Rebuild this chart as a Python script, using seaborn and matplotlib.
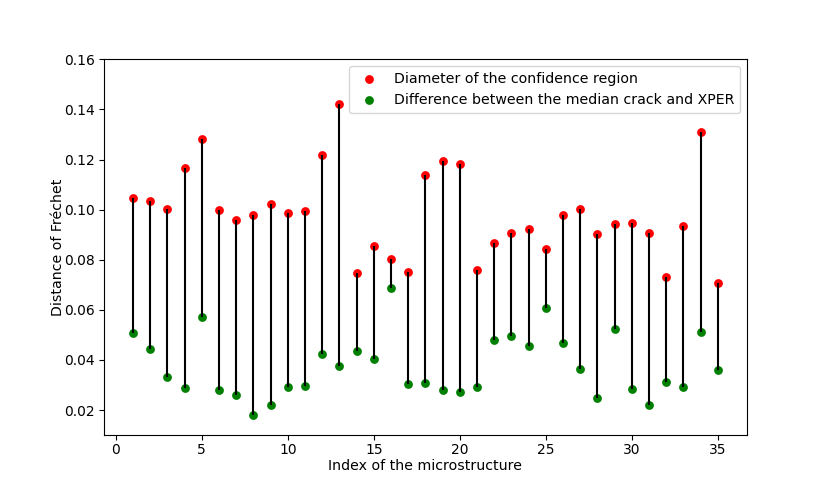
import numpy as np
import pandas as pd
import matplotlib
matplotlib.use("Agg")
import matplotlib.pyplot as plt
import seaborn as sns

index = list(range(1, 36))
diameter = [0.1045, 0.1035, 0.1001, 0.1165, 0.1281, 0.0997, 0.0957, 0.0977, 0.1021, 0.0987,
            0.0993, 0.1217, 0.1420, 0.0747, 0.0853, 0.0801, 0.0753, 0.1140, 0.1195, 0.1184,
            0.0761, 0.0868, 0.0905, 0.0923, 0.0841, 0.0977, 0.1001, 0.0903, 0.0941, 0.0947,
            0.0907, 0.0731, 0.0936, 0.1311, 0.0708]
difference = [0.0508, 0.0443, 0.0331, 0.0287, 0.0573, 0.0279, 0.0259, 0.0180, 0.0220, 0.0292,
              0.0295, 0.0425, 0.0377, 0.0436, 0.0403, 0.0689, 0.0305, 0.0309, 0.0279, 0.0272,
              0.0293, 0.0480, 0.0497, 0.0456, 0.0607, 0.0469, 0.0363, 0.0248, 0.0523, 0.0283,
              0.0220, 0.0312, 0.0293, 0.0513, 0.0359]

df = pd.DataFrame({"idx": index, "diam": diameter, "diff": difference})

fig, ax = plt.subplots(figsize=(8.3, 4.9), dpi=100)
fig.subplots_adjust(left=0.125, right=0.9, bottom=0.112, top=0.879)

sns.scatterplot(data=df, x="idx", y="diam", color="red", s=40, linewidth=0,
                label="Diameter of the confidence region", ax=ax)
sns.scatterplot(data=df, x="idx", y="diff", color="green", s=40, linewidth=0,
                label="Difference between the median crack and XPER", ax=ax)
ax.vlines(df["idx"], df["diff"], df["diam"], color="black", linewidth=1.5, zorder=2)

ax.set_ylim(0.01, 0.16)
ax.tick_params(axis="x", pad=2.3)
ax.tick_params(axis="y", pad=3.0)
ax.set_xlabel("Index of the microstructure", fontsize=10.15, labelpad=1.2)
ax.set_ylabel("Distance of Fréchet", fontsize=10.15, labelpad=-0.5)
ax.legend(loc="upper right", fontsize=10.15)

fig.savefig("out.png", dpi=100)
